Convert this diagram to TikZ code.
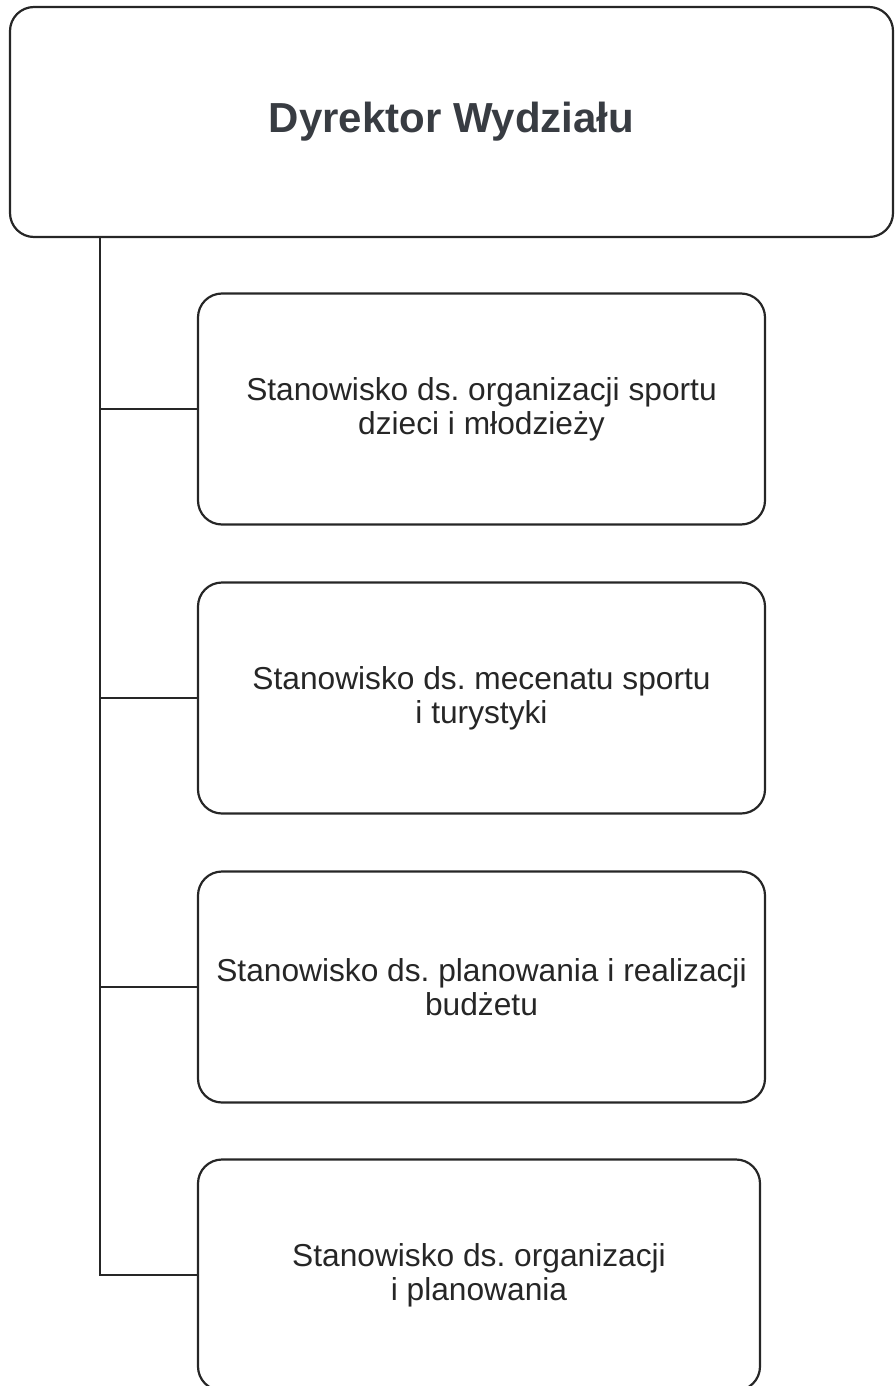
\documentclass[tikz,border=0pt]{standalone}
\usepackage{fontspec}
\setmainfont{Liberation Sans}
\frenchspacing
\definecolor{tytul}{HTML}{383C42}
\definecolor{kreska}{HTML}{262626}

\begin{document}
\begin{tikzpicture}[x=1pt,y=-1pt,
    ramka/.style={draw=kreska, line width=2.2pt, rounded corners=24pt, align=center, inner sep=0pt},
    stanowisko/.style={ramka, text=kreska, minimum width=567pt, minimum height=231pt, font=\fontsize{31.7}{34}\selectfont},
    linia/.style={draw=kreska, line width=2.2pt, line cap=rect}]
    \useasboundingbox (0,0) rectangle (894,1386);
    \node [ramka, text=tytul, minimum width=883pt, minimum height=230pt, font=\bfseries\fontsize{42}{46}\selectfont] (dyrektor) at (451.5,122) {Dyrektor Wydziału};
    \node [stanowisko] (s1) at (481.5,409) {Stanowisko ds. organizacji sportu\\dzieci i młodzieży};
    \node [stanowisko] (s2) at (481.5,698) {Stanowisko ds. mecenatu sportu\\i turystyki};
    \node [stanowisko] (s3) at (481.5,987) {Stanowisko ds. planowania i realizacji\\budżetu};
    \node [stanowisko, minimum width=562pt] (s4) at (479,1275) {Stanowisko ds. organizacji\\i planowania};
    \coordinate (pion) at (100,0 |- dyrektor.south);
    \foreach \i in {1,...,4} {
        \coordinate (k\i) at (pion |- s\i.west);
        \draw [linia] (k\i) -- (s\i.west);
    }
    \draw [linia] (pion) -- (k4);
\end{tikzpicture}
\end{document}
